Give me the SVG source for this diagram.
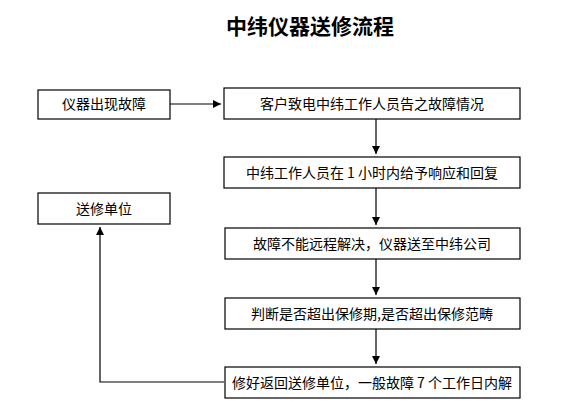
<svg xmlns="http://www.w3.org/2000/svg" width="588" height="410" viewBox="0 0 588 410">
<defs>
<style>
.box{fill:#fff;stroke:#000;stroke-width:1.2}
.t{font-family:"Noto Sans CJK SC","Liberation Sans",sans-serif;font-size:14px;fill:#000;text-anchor:middle}
.title{font-family:"Noto Sans CJK SC","Liberation Sans",sans-serif;font-size:21px;font-weight:bold;fill:#000;text-anchor:middle}
.c{fill:none;stroke:#000;stroke-width:1.2}
</style>
<marker id="ah" viewBox="0 0 10 10" refX="10" refY="5" markerWidth="12" markerHeight="8" markerUnits="userSpaceOnUse" orient="auto">
<path d="M0,0 L10,5 L0,10 z" fill="#000"/>
</marker>
</defs>
<rect width="588" height="410" fill="#fff"/>
<text class="title" x="310" y="34">中纬仪器送修流程</text>
<g id="connectors">
<line class="c" x1="170" y1="104" x2="221" y2="104" marker-end="url(#ah)"/>
<line class="c" x1="376" y1="119" x2="376" y2="154" marker-end="url(#ah)"/>
<line class="c" x1="376" y1="188" x2="376" y2="225" marker-end="url(#ah)"/>
<line class="c" x1="376" y1="259" x2="376" y2="295" marker-end="url(#ah)"/>
<line class="c" x1="376" y1="329" x2="376" y2="364" marker-end="url(#ah)"/>
<polyline class="c" points="224,382 100,382 100,227" marker-end="url(#ah)"/>
</g>
<g id="n1"><rect class="box" x="38" y="90" width="132" height="29"/><text class="t" x="104" y="109">仪器出现故障</text></g>
<g id="n2"><rect class="box" x="224" y="88" width="296" height="31"/><text class="t" x="372" y="108.5">客户致电中纬工作人员告之故障情况</text></g>
<g id="n3"><rect class="box" x="224" y="157" width="296" height="31"/><text class="t" x="372" y="177.5">中纬工作人员在 1 小时内给予响应和回复</text></g>
<g id="n4"><rect class="box" x="38" y="193" width="132" height="31"/><text class="t" x="104" y="213.5">送修单位</text></g>
<g id="n5"><rect class="box" x="225" y="228" width="295" height="31"/><text class="t" x="372" y="248.5">故障不能远程解决，仪器送至中纬公司</text></g>
<g id="n6"><rect class="box" x="225" y="298" width="295" height="31"/><text class="t" x="372" y="318.5">判断是否超出保修期,是否超出保修范畴</text></g>
<g id="n7"><rect class="box" x="225" y="367" width="295" height="31"/><text class="t" x="372" y="387.5">修好返回送修单位，一般故障 7 个工作日内解</text></g>
</svg>
